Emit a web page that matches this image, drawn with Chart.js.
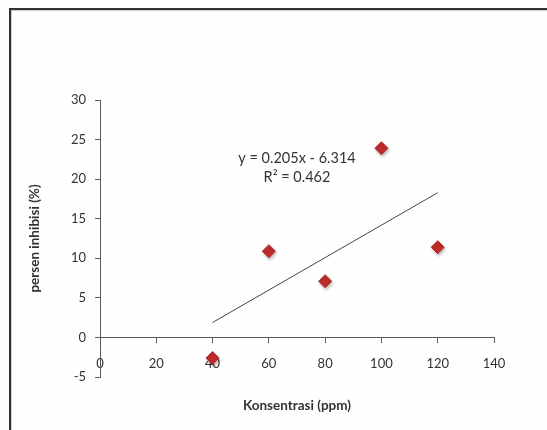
<!DOCTYPE html>
<html>
<head>
<meta charset="utf-8">
<script src="https://cdn.jsdelivr.net/npm/chart.js@4.4.1/dist/chart.umd.min.js"></script>
<style>
  body { margin: 0; background: #fefefe; }
  #wrap { position: relative; width: 547px; height: 430px; overflow: hidden; }
  #frame {
    position: absolute; left: 9px; top: 8px; width: 600px; height: 500px;
    border-left: 2px solid #333; border-top: 2px solid #333;
    box-shadow: inset 1px 1px 0 #ccc;
  }
  canvas { position: absolute; left: 0; top: 0; }
</style>
</head>
<body>
<div id="wrap">
  <div id="frame"></div>
  <canvas id="chart" width="547" height="430"></canvas>
</div>
<script>
// data
let konsentrasi = [40, 60, 80, 100, 120];
let inhibisi = [-2.6, 10.9, 7.1, 23.9, 11.4];

// trendline end points (y = 0.205x - 6.314)
let trendX = [40, 120];
let trendY = [1.886, 18.286];
let equationLines = ['y = 0.205x - 6.314', 'R\u00b2 = 0.462'];

let xTicks = [0, 20, 40, 60, 80, 100, 120, 140];
let yTicks = [-5, 0, 5, 10, 15, 20, 25, 30];

const font = 'Lato';
const axisColor = '#5a5a5a';
const textColor = '#333';

// equation label next to the trendline
const equationLabel = {
  id: 'equationLabel',
  afterDatasetsDraw(chart) {
    const ctx = chart.ctx;
    const x = chart.scales.x.getPixelForValue(70);
    const y = chart.scales.y.getPixelForValue(22.6);
    ctx.save();
    ctx.font = '14.5px ' + font;
    ctx.fillStyle = textColor;
    ctx.textAlign = 'center';
    ctx.textBaseline = 'middle';
    ctx.fillText(equationLines[0], x, y);
    ctx.fillText(equationLines[1], x, y + 19);
    ctx.restore();
  },
};

// soft shadow under the markers
const markerShadow = {
  id: 'markerShadow',
  beforeDatasetDraw(chart, args) {
    if (args.index !== 0) return;
    const ctx = chart.ctx;
    ctx.save();
    ctx.shadowColor = 'rgba(0,0,0,0.25)';
    ctx.shadowBlur = 3;
    ctx.shadowOffsetX = 1;
    ctx.shadowOffsetY = 2;
  },
  afterDatasetDraw(chart, args) {
    if (args.index !== 0) return;
    chart.ctx.restore();
  },
};

let ctx = document.getElementById('chart');
const data = {
  datasets: [
    {
      type: 'scatter',
      label: 'persen inhibisi',
      data: konsentrasi.map((k, i) => ({ x: k, y: inhibisi[i] })),
      pointStyle: 'rectRot',
      pointRadius: 6.5,
      pointBackgroundColor: 'rgb(192, 45, 42)',
      pointBorderColor: 'rgb(180, 40, 38)',
      pointBorderWidth: 1,
      order: 1,
    },
    {
      type: 'line',
      label: 'trend',
      data: trendX.map((k, i) => ({ x: k, y: trendY[i] })),
      borderColor: '#454545',
      borderWidth: 1,
      pointRadius: 0,
      fill: false,
      order: 2,
    },
  ],
};
const config = {
  data: data,
  plugins: [markerShadow, equationLabel],
  options: {
    responsive: false,
    animation: false,
    events: [],
    layout: { padding: { left: 0, top: 100, right: 53, bottom: 53 } },
    plugins: {
      legend: { display: false },
      tooltip: { enabled: false },
    },
    scales: {
      x: {
        type: 'linear',
        position: { y: 0 },
        min: xTicks[0],
        max: xTicks[xTicks.length - 1],
        afterBuildTicks: (scale) => { scale.ticks = xTicks.map((v) => ({ value: v })); },
        afterFit: (scale) => { scale.height = 76; },
        grid: { drawOnChartArea: false, drawTicks: true, tickLength: 5, color: axisColor },
        border: { color: axisColor, width: 1 },
        ticks: { color: textColor, font: { family: font, size: 13 }, padding: 14, maxRotation: 0 },
        title: {
          display: true,
          text: 'Konsentrasi (ppm)',
          color: textColor,
          font: { family: font, size: 13.5, weight: 'bold' },
          padding: 0,
        },
      },
      y: {
        type: 'linear',
        position: 'left',
        min: yTicks[0],
        max: yTicks[yTicks.length - 1],
        afterBuildTicks: (scale) => { scale.ticks = yTicks.map((v) => ({ value: v })); },
        afterFit: (scale) => { scale.width = 100; },
        grid: { drawOnChartArea: false, drawTicks: true, tickLength: 5, color: axisColor },
        border: { color: axisColor, width: 1 },
        ticks: { color: textColor, font: { family: font, size: 13 }, padding: 9 },
        title: {
          display: true,
          text: 'persen inhibisi (%)',
          color: textColor,
          font: { family: font, size: 13.5, weight: 'bold' },
          padding: { top: 27, bottom: 0 },
        },
      },
    },
  },
};
new Chart(ctx, config);
</script>
</body>
</html>
